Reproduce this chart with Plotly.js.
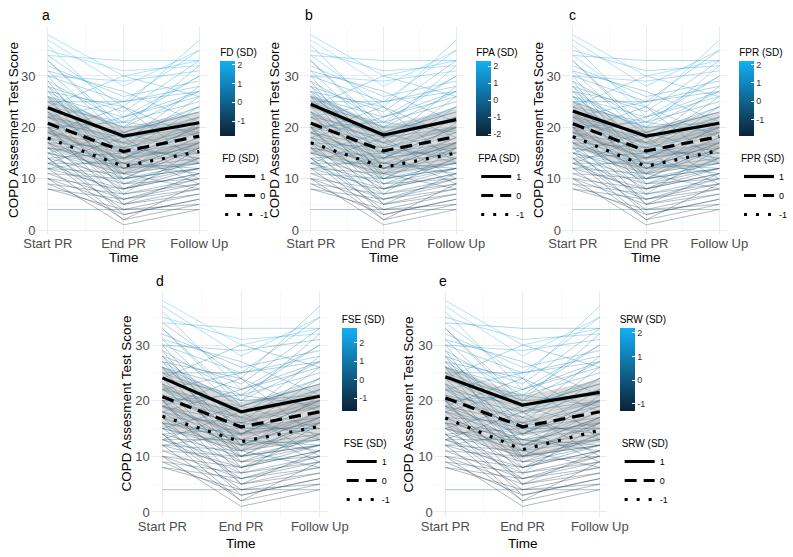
<!DOCTYPE html>
<html>
<head>
<meta charset="utf-8">
<script src="https://cdn.plot.ly/plotly-3.0.1.min.js"></script>
<style>html,body{margin:0;padding:0;background:#fff;}#chart{width:793px;height:557px;}</style>
</head>
<body>
<div id="chart"></div>
<script>
// ---------- DATA ----------
const timeLabels = ['Start PR', 'End PR', 'Follow Up'];
const timeX = [1, 2, 3];

// CAT score per subject at each time point
const catStart = [38,37,36,35,34,34,33,32,31,30, 30,30,29,28,28,27,27,26,26,26, 25,25,25,24,24,24,23,23,23,22,
                  22,22,21,21,21,20,20,20,20,19, 19,19,18,18,18,17,17,17,17,16, 16,16,16,15,15,15,14,14,14,13,
                  13,13,12,12,12,11,11,10,10,10, 9,9,8,8,4,27,29,31,24,22, 18,15,13,26,20,12,33,14,19,28];
const catEnd   = [30,28,22,31,24,33,20,26,18,25, 14,29,21,16,23,19,12,22,17,9, 20,15,25,18,11,21,14,17,8,19,
                  13,16,10,18,15,12,17,7,21,14, 11,16,13,9,15,12,5,16,10,13, 8,14,3,11,12,6,10,15,4,13,
                  9,7,8,11,2,6,10,5,8,1, 7,3,6,4,4,24,12,27,30,25, 22,19,18,20,5,14,19,2,24,10];
const catFollow= [33,35,30,32,37,33,27,29,24,28, 22,31,25,20,33,23,18,26,28,14, 21,17,27,22,16,30,19,13,11,24,
                  15,26,12,20,9,17,22,10,19,16, 21,14,18,12,24,13,8,19,16,11, 14,20,6,13,17,9,12,15,7,12,
                  10,16,11,8,5,10,13,7,12,4, 9,6,8,5,4,18,14,21,26,35, 27,23,10,32,11,20,15,9,13,17];

// moderator values per subject (SD units)
const zFD  = [2.1,1.9,1.5,2.2,1.2,1.7,0.9,1.4,0.6,1.1, 0.3,1.8,0.8,0.2,1.3,0.5,-0.3,0.9,0.4,-0.5,
              0.7,0.1,1.0,0.4,-0.4,1.2,0.0,0.6,-0.9,0.5, -0.2,0.8,-0.7,0.3,-0.1,-0.3,0.6,-1.1,0.9,-0.2,
              0.4,-0.6,0.0,-0.9,0.7,-0.5,-1.4,0.2,-0.8,-0.3, -1.0,0.3,-1.6,-0.6,-0.1,-1.2,-0.7,0.1,-1.5,-0.4,
              -0.9,0.0,-1.1,-0.5,-1.7,-1.0,-0.4,-1.3,-0.8,-1.8, -1.2,-1.5,-1.0,-1.6,-0.9,0.6,-0.2,1.0,1.3,1.6,
              0.8,0.5,-0.3,1.1,-1.1,0.2,0.4,-1.4,0.3,0.0];
const zFPA = [1.8,2.3,1.2,1.9,1.5,1.4,0.6,1.7,0.9,0.8, 0.5,2.0,0.4,0.5,1.0,0.8,-0.6,0.6,0.7,-0.2,
              0.9,-0.2,1.3,0.1,-0.7,1.4,0.3,0.2,-1.2,0.8, -0.5,1.0,-0.4,0.0,-0.4,-0.6,0.9,-1.4,0.6,0.1,
              0.7,-0.9,-0.3,-0.6,1.0,-0.8,-1.8,0.5,-0.5,-0.6, -1.3,0.0,-2.0,-0.3,-0.4,-0.9,-1.0,0.4,-1.8,-0.7,
              -1.2,0.3,-0.8,-0.8,-2.1,-1.3,-0.1,-1.6,-0.5,-1.5, -0.9,-1.8,-1.3,-1.9,-1.2,0.3,0.1,0.7,1.1,1.9,
              0.5,0.8,-0.6,0.9,-0.8,0.5,0.1,-1.7,0.0,0.3];
const zFPR = [2.2,1.6,1.8,1.3,1.9,1.0,1.1,0.9,1.2,0.6, 0.8,1.5,0.2,0.6,0.9,0.1,0.0,1.2,0.2,-0.1,
              0.4,0.5,0.7,0.8,-0.1,0.9,-0.3,0.4,-0.5,0.2, 0.1,0.5,-0.9,0.6,0.2,0.1,0.3,-0.8,1.1,-0.5,
              0.1,-0.2,0.4,-1.2,0.3,-0.2,-1.0,-0.1,-1.1,0.0, -0.7,0.6,-1.3,-0.9,0.2,-1.5,-0.4,-0.2,-1.1,-0.1,
              -0.6,-0.4,-1.4,-0.2,-1.3,-0.7,-0.9,-1.0,-1.2,-1.6, -0.8,-1.1,-1.5,-1.2,-0.6,0.9,0.2,0.5,1.5,1.2,
              1.0,0.2,-0.1,1.4,-1.4,0.6,-0.2,-1.9,0.5,0.4];
const zFSE = [2.8,2.1,1.4,2.5,0.9,1.9,1.2,0.7,1.0,1.6, 0.2,1.1,1.3,0.0,0.6,0.7,-0.1,0.4,0.9,-0.7,
              0.3,0.5,0.8,0.6,-0.2,1.0,0.2,0.3,-0.6,0.9, 0.0,0.4,-0.8,0.5,0.1,-0.5,0.8,-0.9,0.5,0.0,
              0.2,-0.4,0.3,-1.1,0.5,-0.3,-1.2,0.4,-0.6,-0.1, -0.8,0.1,-1.4,-0.5,0.0,-1.0,-0.9,0.3,-1.3,-0.2,
              -0.7,0.2,-1.2,-0.3,-1.6,-0.8,-0.2,-1.1,-0.9,-1.7, -1.0,-1.3,-0.8,-1.4,-1.1,0.4,0.0,1.2,0.9,1.3,
              0.6,0.3,-0.4,0.7,-1.0,0.1,0.6,-1.5,0.2,-0.2];
const zSRW = [1.9,2.2,1.0,1.6,1.7,0.9,0.7,1.3,0.5,1.2, 0.6,1.4,0.9,0.3,1.1,0.2,0.1,0.8,0.5,-0.3,
              0.6,0.0,1.1,0.3,-0.4,0.8,0.1,0.5,-0.6,0.4, -0.1,0.7,-0.5,0.2,0.0,-0.2,0.5,-0.8,0.7,-0.1,
              0.3,-0.4,0.1,-0.7,0.6,-0.3,-1.0,0.2,-0.6,-0.2, -0.7,0.4,-1.1,-0.4,0.0,-0.9,-0.5,0.1,-1.2,-0.3,
              -0.8,0.0,-0.9,-0.4,-1.3,-0.9,-0.2,-1.0,-0.6,-1.3, -1.0,-1.2,-0.8,-1.1,-0.7,0.5,-0.1,0.8,1.0,1.5,
              0.6,0.3,-0.5,0.9,-0.9,0.2,0.4,-1.2,0.1,0.0];

// model-predicted means at +1, 0, -1 SD of the moderator
const meanFD_p1  = [23.8, 18.3, 20.9], meanFD_0  = [20.8, 15.3, 18.3], meanFD_m1  = [17.9, 12.4, 15.3];
const meanFPA_p1 = [24.5, 18.5, 21.5], meanFPA_0 = [20.8, 15.4, 18.2], meanFPA_m1 = [17.0, 12.2, 15.0];
const meanFPR_p1 = [23.2, 18.3, 20.8], meanFPR_0 = [20.7, 15.4, 18.2], meanFPR_m1 = [18.2, 12.4, 15.5];
const meanFSE_p1 = [24.1, 18.0, 20.8], meanFSE_0 = [20.7, 15.3, 18.0], meanFSE_m1 = [17.2, 12.6, 15.4];
const meanSRW_p1 = [24.3, 19.2, 21.5], meanSRW_0 = [20.5, 15.3, 18.0], meanSRW_m1 = [16.9, 11.2, 14.7];
// confidence half-width of the predicted means
const ciHalf = [2.0, 1.7, 2.2];

const sdLevels = ['1', '0', '-1'];
const yTicks = [0, 10, 20, 30];
const cbTickVals = [2, 1, 0, -1, -2];
const cbTickText = ['2', '1', '0', '-1', '-2'];

// ---------- LAYOUT HELPERS ----------
const W = 793, H = 557;
const lowC = [11, 34, 54], highC = [19, 176, 245];
const colorscale = [[0, 'rgb(11,34,54)'], [1, 'rgb(19,176,245)']];
function colorFor(z, zmin, zmax) {
  const t = Math.max(0, Math.min(1, (z - zmin) / (zmax - zmin)));
  const c = lowC.map((l, i) => Math.round(l + (highC[i] - l) * t));
  return 'rgb(' + c.join(',') + ')';
}
const dashes = ['solid', '12px,7px', '3px,9px'];
const FONT = 'Liberation Sans, Arial, Helvetica, sans-serif';

const rows = [
  {yb: 234.4, yt: 26.7, cbTop: 45, cbLen: 91, legTop: 149, labelY: 15, timeY: 257, ycenter: 130},
  {yb: 516.7, yt: 291.6, cbTop: 312, cbLen: 99, legTop: 434, labelY: 281, timeY: 543, ycenter: 404}
];
const panels = [
  {name: 'FD (SD)',  z: zFD,  means: [meanFD_p1, meanFD_0, meanFD_m1],   x0: 36.6,  x1: 207.6, row: 0, cbx: 221, label: 'a', lx: 40,  ytx: 13},
  {name: 'FPA (SD)', z: zFPA, means: [meanFPA_p1, meanFPA_0, meanFPA_m1], x0: 301.0, x1: 465.3, row: 0, cbx: 478, label: 'b', lx: 304, ytx: 275},
  {name: 'FPR (SD)', z: zFPR, means: [meanFPR_p1, meanFPR_0, meanFPR_m1], x0: 564.0, x1: 729.4, row: 0, cbx: 742, label: 'c', lx: 569, ytx: 540},
  {name: 'FSE (SD)', z: zFSE, means: [meanFSE_p1, meanFSE_0, meanFSE_m1], x0: 151.2, x1: 328.9, row: 1, cbx: 343, label: 'd', lx: 155, ytx: 126},
  {name: 'SRW (SD)', z: zSRW, means: [meanSRW_p1, meanSRW_0, meanSRW_m1], x0: 435.4, x1: 609.8, row: 1, cbx: 622, label: 'e', lx: 439, ytx: 410}
];

const traces = [];
const layout = {
  width: W, height: H,
  margin: {l: 0, r: 0, t: 0, b: 0},
  paper_bgcolor: '#fff', plot_bgcolor: 'rgba(0,0,0,0)',
  font: {family: FONT, color: '#000'},
  showlegend: true,
  annotations: []
};

panels.forEach((p, k) => {
  const r = rows[p.row];
  const xs = k === 0 ? '' : String(k + 1);
  const xa = 'x' + xs, ya = 'y' + xs;
  const legName = k === 0 ? 'legend' : 'legend' + (k + 1);
  const zmin = Math.min(...p.z), zmax = Math.max(...p.z);

  layout['xaxis' + xs] = {
    domain: [p.x0 / W, p.x1 / W], anchor: ya, range: [0.85, 3.1],
    tickmode: 'array', tickvals: timeX, ticktext: timeLabels,
    showgrid: true, gridcolor: '#EBEBEB', gridwidth: 1, zeroline: false, showline: false, ticks: '',
    tickfont: {size: 13, color: '#4D4D4D'},
    minor: {tickmode: 'array', tickvals: [1.5, 2.5], showgrid: true, gridcolor: '#F4F4F4', gridwidth: 0.6, ticks: ''},
    fixedrange: true
  };
  layout['yaxis' + xs] = {
    domain: [1 - r.yb / H, 1 - r.yt / H], anchor: xa, range: [-0.85, 39.6],
    tickmode: 'array', tickvals: yTicks,
    showgrid: true, gridcolor: '#EBEBEB', gridwidth: 1, zeroline: false, showline: false, ticks: '',
    tickfont: {size: 13, color: '#4D4D4D'},
    minor: {tickmode: 'array', tickvals: [5, 15, 25, 35], showgrid: true, gridcolor: '#F4F4F4', gridwidth: 0.6, ticks: ''},
    fixedrange: true
  };

  // individual trajectories
  for (let i = 0; i < catStart.length; i++) {
    traces.push({
      type: 'scatter', mode: 'lines', xaxis: xa, yaxis: ya,
      x: timeX, y: [catStart[i], catEnd[i], catFollow[i]],
      line: {color: colorFor(p.z[i], zmin, zmax), width: 0.9},
      opacity: 0.36, showlegend: false, hoverinfo: 'skip'
    });
  }
  // confidence ribbons
  p.means.forEach((m) => {
    const up = m.map((v, j) => v + ciHalf[j]);
    const lo = m.map((v, j) => v - ciHalf[j]);
    traces.push({
      type: 'scatter', mode: 'lines', xaxis: xa, yaxis: ya,
      x: timeX.concat(timeX.slice().reverse()), y: up.concat(lo.slice().reverse()),
      fill: 'toself', fillcolor: 'rgba(125,125,125,0.28)', line: {width: 0},
      showlegend: false, hoverinfo: 'skip'
    });
  });
  // mean lines
  p.means.forEach((m, j) => {
    traces.push({
      type: 'scatter', mode: 'lines', xaxis: xa, yaxis: ya,
      x: timeX, y: m, name: sdLevels[j], legend: legName,
      line: {color: '#000', width: 3.2, dash: dashes[j]},
      showlegend: true, hoverinfo: 'skip'
    });
  });
  // colour scale
  const tv = [], tt = [];
  cbTickVals.forEach((v, j) => { if (v >= zmin && v <= zmax) { tv.push(v); tt.push(cbTickText[j]); } });
  traces.push({
    type: 'scatter', mode: 'markers', xaxis: xa, yaxis: ya,
    x: [2, 2], y: [-60, -60], showlegend: false, hoverinfo: 'skip',
    marker: {
      size: 1, color: [zmin, zmax], cmin: zmin, cmax: zmax, colorscale: colorscale, showscale: true,
      colorbar: {
        x: p.cbx / W, xanchor: 'left', xpad: 0, y: 1 - r.cbTop / H, yanchor: 'top', ypad: 0,
        lenmode: 'pixels', len: r.cbLen, thickness: 15, outlinewidth: 0,
        tickmode: 'array', tickvals: tv, ticktext: tt,
        ticks: 'inside', ticklen: 3, tickcolor: '#fff', tickfont: {size: 9, color: '#333'},
        title: {text: p.name, side: 'top', font: {size: 10, color: '#000'}}
      }
    }
  });

  layout[legName] = {
    x: p.cbx / W, xanchor: 'left', y: 1 - r.legTop / H, yanchor: 'top',
    bgcolor: 'rgba(0,0,0,0)', borderwidth: 0, font: {size: 9, color: '#000'},
    title: {text: p.name, font: {size: 10, color: '#000'}}, itemwidth: 30, tracegroupgap: 0
  };

  // panel tag
  layout.annotations.push({text: p.label, xref: 'paper', yref: 'paper', x: p.lx / W, y: 1 - r.labelY / H,
    xanchor: 'left', yanchor: 'middle', showarrow: false, font: {size: 14, color: '#000'}});
  // y title
  layout.annotations.push({text: 'COPD Assesment Test Score', xref: 'paper', yref: 'paper', x: p.ytx / W, y: 1 - r.ycenter / H,
    xanchor: 'center', yanchor: 'middle', textangle: -90, showarrow: false, font: {size: 13.5, color: '#000'}});
  // x title
  layout.annotations.push({text: 'Time', xref: xa, yref: 'paper', x: 2, y: 1 - r.timeY / H,
    xanchor: 'center', yanchor: 'middle', showarrow: false, font: {size: 13.5, color: '#000'}});
});

Plotly.newPlot('chart', traces, layout, {staticPlot: true, displayModeBar: false});
</script>
</body>
</html>
